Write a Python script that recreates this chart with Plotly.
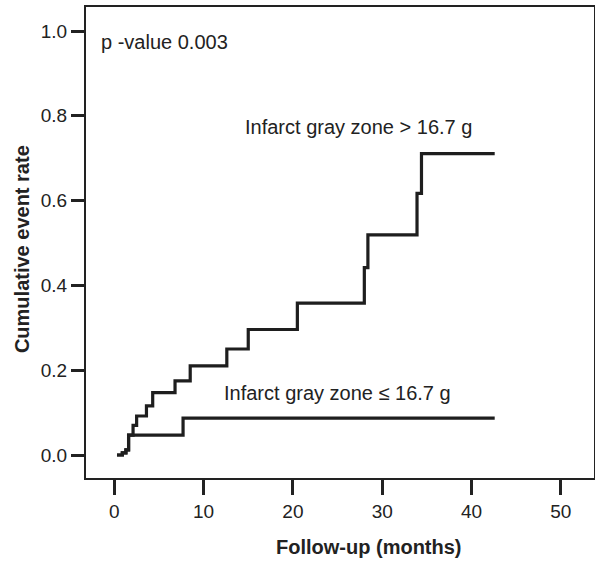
import plotly.graph_objects as go

# Data (months, cumulative event rate)
t_high = [0.3, 0.9, 1.3, 1.6, 2.1, 2.5, 3.6, 4.3, 6.8, 8.5, 12.6, 15.0, 20.5, 28.0, 28.4, 33.9, 34.4, 42.6]
r_high = [0.0, 0.005, 0.012, 0.047, 0.07, 0.092, 0.116, 0.147, 0.175, 0.21, 0.25, 0.296, 0.358, 0.442, 0.519, 0.617, 0.711, 0.711]

t_low = [0.3, 0.9, 1.3, 1.6, 7.7, 42.6]
r_low = [0.0, 0.005, 0.012, 0.047, 0.087, 0.087]

x_ticks = [0, 10, 20, 30, 40, 50]
y_ticks = [0.0, 0.2, 0.4, 0.6, 0.8, 1.0]
y_ticklabels = ["0.0", "0.2", "0.4", "0.6", "0.8", "1.0"]

label_high = "Infarct gray zone > 16.7 g"
label_low = "Infarct gray zone \u2264 16.7 g"
p_text = "p -value 0.003"

FONT = "Liberation Sans, Arial, Helvetica, sans-serif"
INK = "#222222"
LINE = "#1e1e1e"

fig = go.Figure()
fig.add_trace(go.Scatter(x=t_high, y=r_high, mode="lines", line=dict(shape="hv", width=3.2, color=LINE),
                         showlegend=False, hoverinfo="skip"))
fig.add_trace(go.Scatter(x=t_low, y=r_low, mode="lines", line=dict(shape="hv", width=3.2, color=LINE),
                         showlegend=False, hoverinfo="skip"))

fig.update_layout(
    width=595, height=561,
    margin=dict(l=86, r=1, t=7, b=83, autoexpand=False),
    paper_bgcolor="white", plot_bgcolor="white",
    font=dict(family=FONT, color=INK, size=19),
    showlegend=False,
)
fig.update_xaxes(
    range=[-3.17, 53.72], tickmode="array", tickvals=x_ticks,
    showline=True, mirror=True, linecolor=INK, linewidth=2,
    ticks="outside", ticklen=15, tickwidth=2.5, tickcolor=INK,
    showgrid=False, zeroline=False, automargin=False,
    tickfont=dict(family=FONT, size=19, color=INK),
)
fig.update_yaxes(
    range=[-0.0542, 1.0566], tickmode="array", tickvals=y_ticks, ticktext=y_ticklabels,
    showline=True, mirror=True, linecolor=INK, linewidth=2,
    ticks="outside", ticklen=13, tickwidth=2.5, tickcolor=INK,
    showgrid=False, zeroline=False, automargin=False,
    tickfont=dict(family=FONT, size=19, color=INK),
)

ann_font = dict(family=FONT, size=20, color=INK)
fig.add_annotation(x=-1.75, y=0.975, xref="x", yref="y", text=p_text, showarrow=False,
                   xanchor="left", yanchor="middle", font=ann_font)
fig.add_annotation(x=14.45, y=0.774, xref="x", yref="y", text=label_high, showarrow=False,
                   xanchor="left", yanchor="middle", font=ann_font)
fig.add_annotation(x=12.03, y=0.146, xref="x", yref="y", text=label_low, showarrow=False,
                   xanchor="left", yanchor="middle", font=ann_font)

title_font = dict(family=FONT, size=20, color=INK)
fig.add_annotation(x=0.557, y=-0.1465, xref="x domain", yref="y domain", text="<b>Follow-up (months)</b>",
                   showarrow=False, xanchor="center", yanchor="middle", font=title_font)
fig.add_annotation(x=-0.126, y=0.486, xref="x domain", yref="y domain", text="<b>Cumulative event rate</b>",
                   showarrow=False, xanchor="center", yanchor="middle", textangle=-90, font=title_font)

post = "document.body.style.margin='0';document.body.style.padding='0';document.body.style.overflow='hidden';"
fig.write_html("out.html", post_script=post, config={"responsive": False, "displayModeBar": False})
